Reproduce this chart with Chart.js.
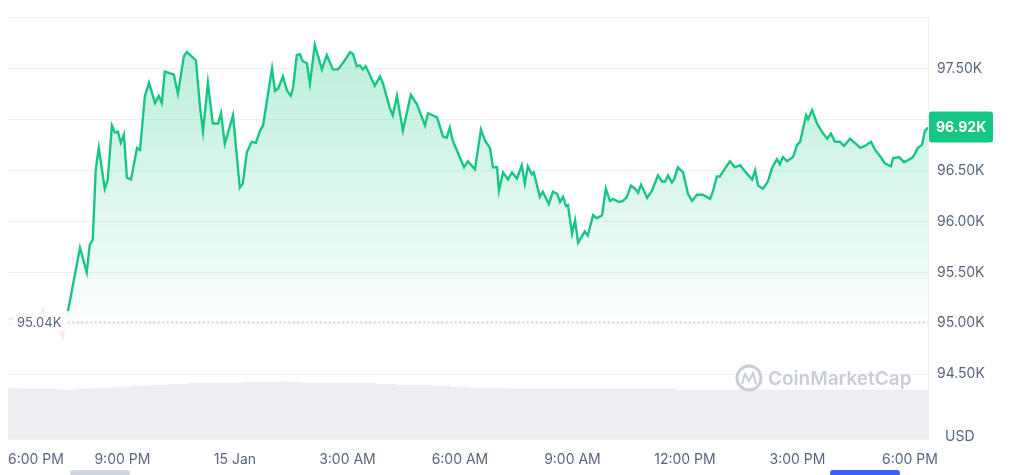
<!DOCTYPE html>
<html>
<head>
<meta charset="utf-8">
<script src="https://cdn.jsdelivr.net/npm/chart.js@4"></script>
<style>
  html, body { margin: 0; padding: 0; background: #fff; }
  #wrap { width: 1010px; height: 475px; }
</style>
</head>
<body>
<div id="wrap"><canvas id="chart"></canvas></div>
<script>
// hours after 6:00 PM (14 Jan) and price in thousands USD
const hours = [-0.05,0.27,0.40,0.67,0.88,1.07,1.28,1.41,1.55,1.87,2.05,2.13,2.21,2.29,2.37,2.53,2.61,2.72,2.80,2.88,2.96,3.04,3.12,3.23,3.39,3.47,3.60,3.71,3.87,3.97,4.05,4.13,4.27,4.37,4.48,4.64,4.72,4.96,5.07,5.15,5.28,5.41,5.55,5.63,5.73,5.95,6.13,6.21,6.32,6.45,6.56,6.67,6.75,6.99,7.07,7.15,7.28,7.39,7.49,7.55,7.65,7.73,7.81,7.92,8.00,8.13,8.32,8.45,8.61,8.75,8.93,9.07,9.15,9.25,9.33,9.41,9.49,9.73,9.87,9.95,10.13,10.21,10.32,10.48,10.69,10.85,11.07,11.15,11.39,11.55,11.65,11.73,11.81,12.11,12.21,12.40,12.56,12.67,12.80,12.88,12.99,13.04,13.15,13.28,13.39,13.52,13.65,13.73,13.81,13.92,13.97,14.13,14.21,14.37,14.48,14.59,14.67,14.75,14.83,14.88,14.99,15.07,15.15,15.33,15.41,15.55,15.65,15.79,15.89,16.00,16.08,16.24,16.35,16.45,16.56,16.67,16.75,16.83,16.99,17.12,17.28,17.39,17.47,17.55,17.65,17.71,17.81,17.95,18.08,18.19,18.32,18.48,18.67,18.75,18.85,18.93,19.07,19.20,19.33,19.47,19.60,19.79,19.87,19.95,20.08,20.21,20.32,20.45,20.53,20.61,20.72,20.88,20.99,21.07,21.23,21.28,21.39,21.52,21.65,21.79,21.89,22.00,22.13,22.24,22.40,22.53,22.67,22.80,22.96,23.07,23.20,23.33,23.49,23.55,23.71,23.84,23.95,24.08,24.21,24.32,24.40,24.48];
const prices = [95.04,95.06,95.00,94.94,95.14,94.97,95.00,94.87,95.12,95.74,95.50,95.77,95.82,96.51,96.72,96.32,96.41,96.94,96.87,96.88,96.77,96.85,96.43,96.41,96.72,96.70,97.23,97.36,97.16,97.23,97.16,97.47,97.45,97.44,97.25,97.62,97.66,97.58,97.12,96.88,97.36,96.96,96.96,97.06,96.76,97.04,96.33,96.37,96.68,96.78,96.77,96.89,96.94,97.50,97.28,97.30,97.42,97.28,97.23,97.31,97.63,97.64,97.57,97.55,97.35,97.73,97.49,97.63,97.49,97.49,97.58,97.66,97.64,97.52,97.53,97.49,97.52,97.33,97.42,97.35,97.11,97.04,97.23,96.89,97.24,97.15,96.94,97.06,97.02,96.83,96.82,96.92,96.79,96.53,96.59,96.51,96.90,96.79,96.72,96.53,96.53,96.30,96.48,96.41,96.48,96.42,96.55,96.37,96.54,96.46,96.48,96.24,96.29,96.17,96.29,96.27,96.19,96.24,96.15,96.16,95.88,96.01,95.79,95.90,95.86,96.06,96.03,96.06,96.32,96.20,96.22,96.19,96.20,96.24,96.35,96.32,96.28,96.36,96.23,96.30,96.45,96.39,96.39,96.45,96.38,96.41,96.53,96.48,96.27,96.20,96.26,96.26,96.22,96.30,96.44,96.44,96.52,96.59,96.53,96.55,96.49,96.41,96.50,96.35,96.32,96.39,96.52,96.61,96.56,96.63,96.59,96.63,96.75,96.78,97.04,97.00,97.09,96.96,96.88,96.81,96.86,96.78,96.78,96.74,96.81,96.77,96.72,96.74,96.78,96.70,96.64,96.57,96.54,96.62,96.63,96.58,96.60,96.63,96.72,96.75,96.89,96.92];

// volume, half-hour buckets (relative units)
const volHours = [0,0.5,1,1.5,2,2.5,3,3.5,4,4.5,5,5.5,6,6.5,7,7.5,8,8.5,9,9.5,10,10.5,11,11.5,12,12.5,13,13.5,14,14.5,15,15.5,16,16.5,17,17.5,18,18.5,19,19.5,20,20.5,21,21.5,22,22.5,23,23.5,24,24.5];
const volumes = [52,51,51,50,51,52,53,54,55,56,57,57,57,58,58,58,57,57,57,57,56,55,55,54,53,52,52,51,51,51,51,51,51,51,51,51,50,50,50,50,50,50,50,50,50,50,50,50,50,50];

const xTicks = [0,3,6,9,12,15,18,21,24];
const xLabels = ["6:00 PM","9:00 PM","15 Jan","3:00 AM","6:00 AM","9:00 AM","12:00 PM","3:00 PM","6:00 PM"];
const yTicks = [94.5,95,95.5,96,96.5,97,97.5,98];

const openPrice = 95.04;
const lastPrice = prices[prices.length - 1];
const green = "#16c784";
const labelColor = "#58667e";

const overlay = {
  id: "overlay",
  afterDatasetsDraw(chart) {
    const { ctx, chartArea: a, scales } = chart;
    const x = scales.x, y = scales.y;
    ctx.save();
    // open price dotted line + label
    const py = y.getPixelForValue(openPrice);
    ctx.strokeStyle = "#a6b0c3";
    ctx.setLineDash([1.5, 3]);
    ctx.lineWidth = 1;
    ctx.beginPath();
    ctx.moveTo(68, py + 3);
    ctx.lineTo(a.right, py + 3);
    ctx.stroke();
    ctx.setLineDash([]);
    ctx.fillStyle = "rgba(255,255,255,0.85)";
    ctx.fillRect(14, py - 6, 54, 18);
    ctx.fillStyle = labelColor;
    ctx.font = "13px 'Inter', sans-serif";
    ctx.textBaseline = "middle";
    ctx.fillText(openPrice.toFixed(2) + "K", 17, py + 4);

    // x labels
    ctx.font = "14px 'Inter', sans-serif";
    ctx.fillStyle = labelColor;
    xTicks.forEach((h, i) => {
      const px = x.getPixelForValue(h);
      ctx.textAlign = i === 0 ? "left" : "center";
      ctx.fillText(xLabels[i], i === 0 ? 8 : px, 460);
    });

    // USD
    ctx.textAlign = "left";
    ctx.fillText("USD", 945, 437);

    // last price badge
    const ly = y.getPixelForValue(lastPrice);
    ctx.fillStyle = green;
    ctx.beginPath();
    ctx.roundRect(a.right + 1, ly - 16, 64, 31, 3);
    ctx.fill();
    ctx.fillStyle = "#fff";
    ctx.font = "bold 14px 'Inter', sans-serif";
    ctx.fillText(lastPrice.toFixed(2) + "K", a.right + 8, ly);

    // watermark
    ctx.strokeStyle = "#c9ced6";
    ctx.lineWidth = 3;
    ctx.beginPath();
    ctx.arc(749, 378, 12, 0, Math.PI * 2);
    ctx.stroke();
    ctx.lineWidth = 2;
    ctx.beginPath();
    ctx.moveTo(742, 384); ctx.lineTo(745, 374); ctx.lineTo(749, 381); ctx.lineTo(753, 373); ctx.lineTo(756, 384);
    ctx.stroke();
    ctx.fillStyle = "#c9ced6";
    ctx.font = "600 19px 'Inter', sans-serif";
    ctx.fillText("CoinMarketCap", 768, 379);

    // scrollbar hints
    ctx.fillStyle = "#cfd6e4";
    ctx.beginPath(); ctx.roundRect(70, 470, 60, 6, 3); ctx.fill();
    ctx.fillStyle = "#3861fb";
    ctx.beginPath(); ctx.roundRect(830, 470, 70, 6, 3); ctx.fill();
    ctx.restore();
  },
};

const fillGradient = (c) => {
  const a = c.chart.chartArea;
  if (!a) return "rgba(22,199,132,0.2)";
  const yb = c.chart.scales.y.getPixelForValue(openPrice);
  const g = c.chart.ctx.createLinearGradient(0, a.top, 0, yb);
  g.addColorStop(0, "rgba(22,199,132,0.32)");
  g.addColorStop(1, "rgba(22,199,132,0.02)");
  return g;
};

const ctxEl = document.getElementById("chart");
new Chart(ctxEl, {
  data: {
    datasets: [
      {
        type: "line",
        data: hours.map((h, i) => ({ x: h, y: prices[i] })),
        borderColor: green,
        borderWidth: 2.4,
        pointRadius: 0,
        tension: 0,
        yAxisID: "y",
        order: 1,
        segment: {
          borderColor: (c) =>
            c.p0.parsed.x < 1.5 ? "rgba(234,57,67,0.12)" : green,
        },
        fill: { target: { value: openPrice }, above: fillGradient, below: "rgba(0,0,0,0)" },
      },
      {
        type: "bar",
        data: volHours.map((h, i) => ({ x: h, y: volumes[i] })),
        backgroundColor: "#eceef2",
        barThickness: 19,
        yAxisID: "vol",
        order: 2,
      },
    ],
  },
  options: {
    responsive: true,
    maintainAspectRatio: false,
    animation: false,
    layout: { padding: { left: 8, top: 10, bottom: 28, right: 0 } },
    plugins: { legend: { display: false }, tooltip: { enabled: false } },
    scales: {
      x: {
        type: "linear",
        offset: false,
        min: -0.05,
        max: 24.48,
        grid: { display: false },
        border: { color: "#eff2f5" },
        ticks: { display: false },
      },
      y: {
        position: "right",
        min: 93.865,
        max: 98,
        afterBuildTicks: (s) => { s.ticks = yTicks.map((v) => ({ value: v })); },
        afterFit: (s) => { s.width = 82; },
        grid: { color: "#eff2f5", drawTicks: false },
        border: { color: "#eff2f5" },
        ticks: {
          padding: 9,
          color: labelColor,
          font: { size: 14, family: "Inter, sans-serif" },
          callback: (v) => (v >= 98 ? "" : v.toFixed(2) + "K"),
        },
      },
      vol: { display: false, min: 0, max: 430 },
    },
  },
  plugins: [overlay],
});
</script>
</body>
</html>
